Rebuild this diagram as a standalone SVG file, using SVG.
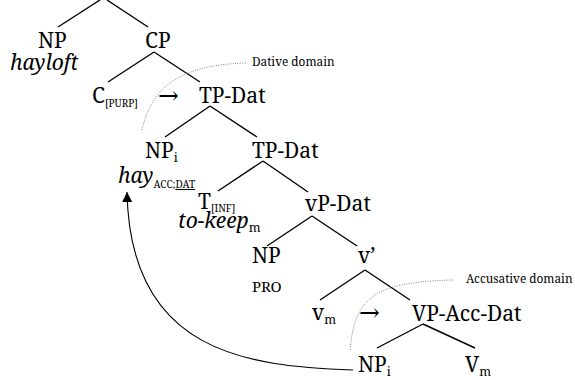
<svg xmlns="http://www.w3.org/2000/svg" width="575" height="380" viewBox="0 0 575 380" font-family="'Noto Serif', 'Liberation Serif', serif">
  <style>
    text { fill: #000; }
    .lbl { font-size: 21px; }
    .it { font-style: italic; }
    .sub { font-size: 10px; }
    .subm { font-size: 12.5px; }
    .small { font-size: 15px; }
    .note { font-size: 11.8px; }
    .arrow { font-family: "DejaVu Serif", serif; font-size: 25px; }
    .edge { stroke: #000; stroke-width: 1.4; fill: none; }
    .domain { stroke: #777; stroke-width: 0.9; stroke-dasharray: 1 1.4; fill: none; }
    .move { stroke: #000; stroke-width: 1.1; fill: none; }
  </style>
  <defs>
    <marker id="head" markerUnits="userSpaceOnUse" markerWidth="11" markerHeight="10" refX="10" refY="5" orient="auto">
      <path d="M0,0 L10,5 L0,10 z" fill="#000"/>
    </marker>
  </defs>

  <!-- tree branches -->
  <g id="connectors">
    <line class="edge" x1="100" y1="0" x2="58" y2="27"/>
    <line class="edge" x1="107" y1="0" x2="148" y2="27"/>
    <line class="edge" x1="154" y1="52" x2="108" y2="82"/>
    <line class="edge" x1="154" y1="52" x2="200" y2="82"/>
    <line class="edge" x1="210" y1="106" x2="165" y2="137"/>
    <line class="edge" x1="210" y1="106" x2="257" y2="137"/>
    <line class="edge" x1="263" y1="161" x2="218" y2="191"/>
    <line class="edge" x1="263" y1="161" x2="308" y2="192"/>
    <line class="edge" x1="312" y1="216" x2="267" y2="246"/>
    <line class="edge" x1="312" y1="216" x2="357" y2="246"/>
    <line class="edge" x1="365" y1="270" x2="320" y2="300"/>
    <line class="edge" x1="365" y1="270" x2="410" y2="300"/>
    <line class="edge" x1="423" y1="324" x2="377" y2="348"/>
    <line class="edge" x1="423" y1="324" x2="475" y2="348"/>
    <!-- movement of the object -->
    <path class="move" d="M353,370 C250,366 130,355 127,192" marker-end="url(#head)"/>
    <!-- case domains -->
    <path class="domain" d="M142,130 C150,95 170,65 246,63"/>
    <path class="domain" d="M350,350 C355,300 370,282 453,280"/>
  </g>

  <g id="np-hayloft">
    <text class="lbl" x="38" y="48">NP</text>
    <text class="lbl it" x="10" y="70">hayloft</text>
  </g>
  <g id="cp">
    <text class="lbl" x="145" y="48">CP</text>
  </g>
  <g id="c-purp">
    <text class="lbl" x="92" y="103">C<tspan class="sub" dy="4">[PURP]</tspan></text>
    <text class="arrow" x="158" y="104">→</text>
  </g>
  <g id="tp-dat-1">
    <text class="lbl" x="199" y="103">TP-Dat</text>
  </g>
  <g id="dative-domain">
    <text class="note" x="252" y="66">Dative domain</text>
  </g>
  <g id="np-i-hay">
    <text class="lbl" x="145" y="158">NP<tspan class="subm" dy="4">i</tspan></text>
    <text class="lbl it" x="118" y="183">hay<tspan class="sub" font-style="normal" dy="5">ACC;</tspan><tspan class="sub" font-style="normal" text-decoration="underline">DAT</tspan></text>
  </g>
  <g id="tp-dat-2">
    <text class="lbl" x="252" y="158">TP-Dat</text>
  </g>
  <g id="t-inf">
    <text class="lbl" x="198" y="209">T<tspan class="sub" dy="3">[INF]</tspan></text>
    <text class="lbl it" x="178" y="228">to-keep<tspan class="subm" font-style="normal" dy="4">m</tspan></text>
  </g>
  <g id="vp-dat">
    <text class="lbl" x="305" y="211">vP-Dat</text>
  </g>
  <g id="np-pro">
    <text class="lbl" x="252" y="263">NP</text>
    <text class="small" x="252" y="292">PRO</text>
  </g>
  <g id="v-bar">
    <text class="lbl" x="358" y="263">v’</text>
  </g>
  <g id="v-m">
    <text class="lbl" x="312" y="320">v<tspan class="subm" dy="4">m</tspan></text>
    <text class="arrow" x="359" y="321">→</text>
  </g>
  <g id="vp-acc-dat">
    <text class="lbl" x="412" y="321">VP-Acc-Dat</text>
  </g>
  <g id="accusative-domain">
    <text class="note" x="466" y="283">Accusative domain</text>
  </g>
  <g id="np-i-trace">
    <text class="lbl" x="358" y="372">NP<tspan class="subm" dy="4">i</tspan></text>
  </g>
  <g id="v-m-head">
    <text class="lbl" x="465" y="372">V<tspan class="subm" dy="4">m</tspan></text>
  </g>
</svg>
